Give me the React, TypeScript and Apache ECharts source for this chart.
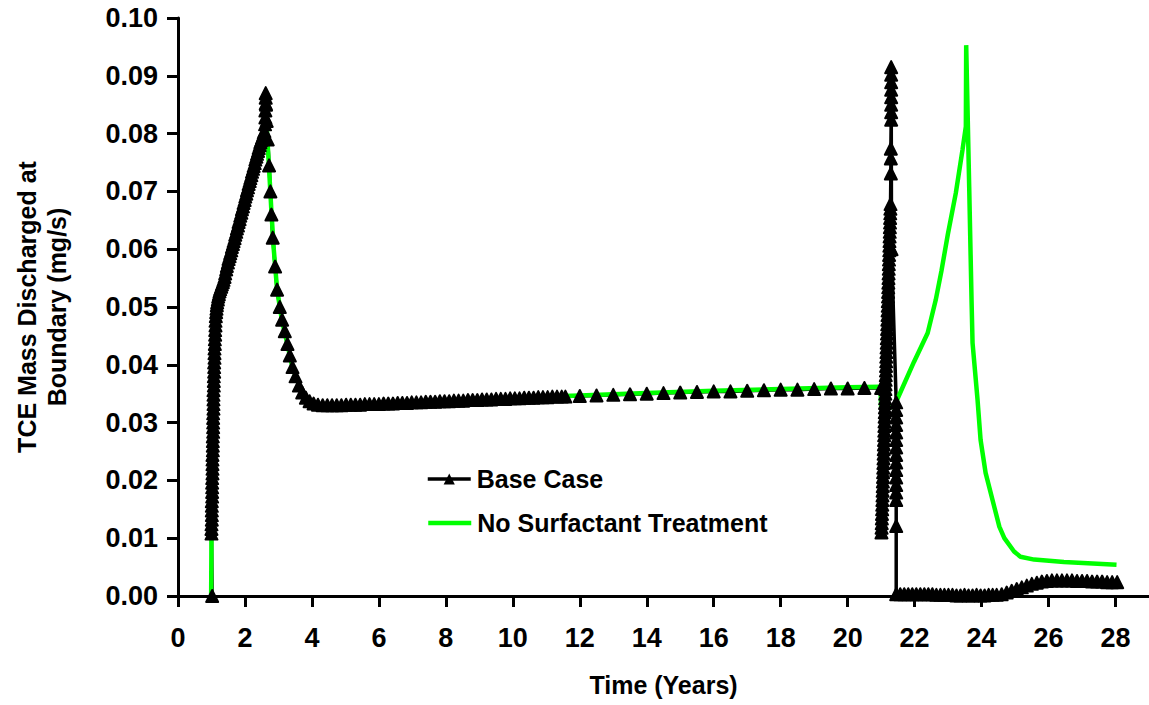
import React, { useEffect, useRef } from "react";
import * as echarts from "echarts";

// ---------- data (years, mg/s) ----------
const xTicks = [0, 2, 4, 6, 8, 10, 12, 14, 16, 18, 20, 22, 24, 26, 28];

const baseStart: number[][] = [[1.02, 0.0]];
const baseRise: number[][] = [
  [1.0, 0.0108], [1.0, 0.0116], [1.0, 0.0124], [1.01, 0.0132], [1.01, 0.014], [1.01, 0.0148],
  [1.01, 0.0156], [1.01, 0.0164], [1.02, 0.0172], [1.02, 0.018], [1.02, 0.0188], [1.02, 0.0196],
  [1.02, 0.0204], [1.03, 0.0212], [1.03, 0.022], [1.03, 0.0228], [1.03, 0.0236], [1.03, 0.0244],
  [1.04, 0.0252], [1.04, 0.026], [1.04, 0.0268], [1.04, 0.0276], [1.05, 0.0284], [1.05, 0.0292],
  [1.05, 0.03], [1.05, 0.0308], [1.05, 0.0316], [1.06, 0.0324], [1.06, 0.0332], [1.06, 0.034],
  [1.06, 0.0348], [1.06, 0.0356], [1.07, 0.0364], [1.07, 0.0372], [1.07, 0.038], [1.08, 0.0388],
  [1.08, 0.0396], [1.08, 0.0404], [1.09, 0.0412], [1.09, 0.042], [1.09, 0.0428], [1.1, 0.0436],
  [1.1, 0.0444], [1.11, 0.0452], [1.11, 0.046], [1.12, 0.0468], [1.12, 0.0476], [1.13, 0.0484],
  [1.14, 0.0491], [1.15, 0.0497], [1.16, 0.0503], [1.17, 0.0508], [1.19, 0.0513], [1.2, 0.0518],
  [1.22, 0.0522], [1.24, 0.0527], [1.26, 0.0531], [1.29, 0.0535], [1.31, 0.0539], [1.34, 0.0543],
  [1.36, 0.0547], [1.39, 0.0552], [1.41, 0.0558], [1.44, 0.0565], [1.46, 0.0571], [1.49, 0.0577],
  [1.51, 0.0583], [1.54, 0.0588], [1.56, 0.0593], [1.59, 0.0598], [1.61, 0.0604], [1.64, 0.0609],
  [1.66, 0.0614], [1.69, 0.0619], [1.71, 0.0625], [1.74, 0.063], [1.76, 0.0636], [1.79, 0.0641],
  [1.81, 0.0647], [1.84, 0.0652], [1.86, 0.0658], [1.89, 0.0663], [1.91, 0.0669], [1.94, 0.0674],
  [1.96, 0.068], [1.99, 0.0685], [2.01, 0.0691], [2.04, 0.0696], [2.06, 0.0702], [2.09, 0.0707],
  [2.11, 0.0713], [2.14, 0.0718], [2.16, 0.0723], [2.19, 0.0728], [2.21, 0.0734], [2.24, 0.0739],
  [2.26, 0.0744], [2.29, 0.0749], [2.31, 0.0755], [2.34, 0.076], [2.36, 0.0765], [2.39, 0.077],
  [2.41, 0.0775], [2.44, 0.078], [2.46, 0.0785], [2.49, 0.0789], [2.51, 0.0793], [2.54, 0.0797],
  [2.56, 0.0801], [2.58, 0.0804],
];
const basePeak: number[][] = [
  [2.6, 0.0816], [2.61, 0.0828], [2.61, 0.084], [2.62, 0.0852], [2.62, 0.0862], [2.62, 0.087],
];
const baseFall: number[][] = [
  [2.63, 0.085], [2.65, 0.0822], [2.68, 0.079], [2.72, 0.0745], [2.76, 0.07], [2.79, 0.066],
  [2.83, 0.062], [2.9, 0.057], [2.96, 0.053], [3.04, 0.05], [3.11, 0.0478], [3.19, 0.0458],
  [3.27, 0.0436], [3.34, 0.0416], [3.42, 0.0396], [3.51, 0.038], [3.61, 0.0364], [3.71, 0.0352],
  [3.82, 0.0343], [3.93, 0.0337], [4.05, 0.0333],
];
const basePlateau: number[][] = [
  [4.18, 0.0331], [4.32, 0.033], [4.46, 0.033], [4.6, 0.033], [4.74, 0.033], [4.88, 0.033],
  [5.02, 0.0331], [5.16, 0.0331], [5.3, 0.0331], [5.44, 0.0331], [5.58, 0.0332], [5.72, 0.0332],
  [5.86, 0.0332], [6.0, 0.0332], [6.14, 0.0333], [6.28, 0.0333], [6.42, 0.0333], [6.56, 0.0334],
  [6.7, 0.0334], [6.84, 0.0334], [6.98, 0.0335], [7.12, 0.0335], [7.26, 0.0335], [7.4, 0.0336],
  [7.54, 0.0336], [7.68, 0.0336], [7.82, 0.0337], [7.96, 0.0337], [8.1, 0.0337], [8.24, 0.0338],
  [8.38, 0.0338], [8.52, 0.0338], [8.66, 0.0339], [8.8, 0.0339], [8.94, 0.0339], [9.08, 0.034],
  [9.22, 0.034], [9.36, 0.034], [9.5, 0.0341], [9.64, 0.0341], [9.78, 0.0341], [9.92, 0.0342],
  [10.06, 0.0342], [10.2, 0.0342], [10.34, 0.0343], [10.48, 0.0343], [10.62, 0.0343], [10.76, 0.0344],
  [10.9, 0.0344], [11.04, 0.0344], [11.18, 0.0345], [11.32, 0.0345], [11.46, 0.0345], [11.57, 0.0345],
];
const baseFlat: number[][] = [
  [12.0, 0.0346], [12.5, 0.0347], [13.0, 0.0348], [13.5, 0.0349], [14.0, 0.035], [14.5, 0.0351],
  [15.0, 0.0352], [15.5, 0.0353], [16.0, 0.0354], [16.5, 0.0354], [17.0, 0.0355], [17.5, 0.0356],
  [18.0, 0.0357], [18.5, 0.0357], [19.0, 0.0358], [19.5, 0.0359], [20.0, 0.0359], [20.5, 0.036],
  [21.0, 0.036],
];
const baseSpikeUp: number[][] = [
  [21.01, 0.011], [21.014, 0.0118], [21.018, 0.0126], [21.021, 0.0134], [21.025, 0.0142],
  [21.029, 0.015], [21.033, 0.0158], [21.037, 0.0166], [21.041, 0.0174], [21.044, 0.0182],
  [21.048, 0.019], [21.052, 0.0198], [21.056, 0.0206], [21.059, 0.0214], [21.063, 0.0222],
  [21.067, 0.023], [21.071, 0.0238], [21.075, 0.0246], [21.078, 0.0254], [21.082, 0.0262],
  [21.086, 0.027], [21.09, 0.0278], [21.094, 0.0286], [21.097, 0.0294], [21.101, 0.0302],
  [21.105, 0.031], [21.109, 0.0318], [21.113, 0.0326], [21.116, 0.0334], [21.12, 0.0342],
  [21.124, 0.035], [21.128, 0.0358], [21.132, 0.0366], [21.135, 0.0374], [21.139, 0.0382],
  [21.143, 0.039], [21.147, 0.0398], [21.151, 0.0406], [21.154, 0.0414], [21.158, 0.0422],
  [21.162, 0.043], [21.166, 0.0438], [21.17, 0.0446], [21.173, 0.0454], [21.177, 0.0462],
  [21.181, 0.047], [21.185, 0.0478], [21.189, 0.0486], [21.192, 0.0494], [21.196, 0.0502],
  [21.2, 0.051], [21.204, 0.0518], [21.208, 0.0526], [21.211, 0.0534], [21.215, 0.0542],
  [21.219, 0.055], [21.223, 0.0558], [21.227, 0.0566], [21.23, 0.0574], [21.234, 0.0582],
  [21.238, 0.059], [21.242, 0.0598], [21.246, 0.0606], [21.249, 0.0614], [21.253, 0.0622],
  [21.257, 0.063], [21.261, 0.0638], [21.265, 0.0646], [21.268, 0.0654], [21.272, 0.0662],
  [21.276, 0.067], [21.28, 0.0678],
];
const baseSpikeTop: number[][] = [
  [21.29, 0.0731], [21.29, 0.0757], [21.29, 0.0774], [21.3, 0.0824], [21.3, 0.0837], [21.3, 0.085],
  [21.3, 0.0863], [21.3, 0.0876], [21.3, 0.0889], [21.3, 0.0902], [21.3, 0.0915], [21.31, 0.06],
];
const baseSpikeTail: number[][] = [
  [21.45, 0.0335], [21.45, 0.0322], [21.45, 0.0309], [21.45, 0.0296], [21.45, 0.0283], [21.45, 0.027],
  [21.45, 0.0257], [21.45, 0.0244], [21.45, 0.0231], [21.45, 0.0218], [21.45, 0.0205], [21.45, 0.0192],
  [21.45, 0.0179], [21.45, 0.0166], [21.45, 0.0121], [21.45, 0.0003],
];
const baseAfter: number[][] = [
  [21.57, 0.0003], [21.69, 0.0003], [21.81, 0.0003], [21.93, 0.0003], [22.05, 0.0003], [22.17, 0.0003],
  [22.29, 0.0003], [22.41, 0.0003], [22.53, 0.0003], [22.65, 0.0002], [22.77, 0.0002], [22.89, 0.0002],
  [23.01, 0.0002], [23.13, 0.0002], [23.25, 0.0001], [23.37, 0.0001], [23.49, 0.0002], [23.61, 0.0001],
  [23.73, 0.0001], [23.85, 0.0002], [23.97, 0.0001], [24.09, 0.0001], [24.21, 0.0002], [24.33, 0.0002],
  [24.45, 0.0002], [24.6, 0.0003], [24.75, 0.0006], [24.9, 0.0009], [25.05, 0.0012], [25.2, 0.0015],
  [25.35, 0.0018], [25.5, 0.0021], [25.65, 0.0023], [25.8, 0.0025], [25.95, 0.0026], [26.1, 0.0027],
  [26.25, 0.0027], [26.4, 0.0027], [26.55, 0.0027], [26.7, 0.0027], [26.85, 0.0026], [27.0, 0.0026],
  [27.15, 0.0026], [27.3, 0.0025], [27.45, 0.0025], [27.6, 0.0025], [27.75, 0.0024], [27.9, 0.0024],
  [28.05, 0.0024],
];

const noSurfactant: number[][] = [
  [0.99, 0.0], [1.0, 0.0105], [1.03, 0.024], [1.06, 0.035], [1.1, 0.045], [1.16, 0.0505],
  [1.3, 0.054], [1.6, 0.06], [2.0, 0.0685], [2.4, 0.0772], [2.58, 0.081], [2.62, 0.085],
  [2.66, 0.08], [2.72, 0.074], [2.79, 0.0665], [2.86, 0.06], [2.96, 0.053], [3.1, 0.0478],
  [3.25, 0.044], [3.4, 0.04], [3.55, 0.0374], [3.7, 0.0354], [3.9, 0.0338], [4.2, 0.0331],
  [5.0, 0.0331], [6.0, 0.0333], [8.0, 0.0337], [10.0, 0.0342], [11.5, 0.0346], [12.0, 0.0347],
  [14.0, 0.0351], [16.0, 0.0355], [18.0, 0.0358], [20.0, 0.0361], [20.98, 0.0362], [21.0, 0.0326],
  [21.38, 0.0327], [21.98, 0.0405], [22.39, 0.0455], [22.63, 0.0512], [22.8, 0.0562], [22.99, 0.0625],
  [23.23, 0.0697], [23.43, 0.0772], [23.53, 0.0812], [23.54, 0.0953], [23.63, 0.0708], [23.7, 0.0512],
  [23.73, 0.0438], [23.88, 0.0339], [23.97, 0.027], [24.12, 0.0213], [24.38, 0.0154], [24.53, 0.012],
  [24.68, 0.01], [24.97, 0.0077], [25.16, 0.0068], [25.57, 0.0063], [26.46, 0.0059], [28.03, 0.0054],
];

const baseCase: number[][] = [
  ...baseStart, ...baseRise, ...basePeak, ...baseFall, ...basePlateau, ...baseFlat,
  ...baseSpikeUp, ...baseSpikeTop, ...baseSpikeTail, ...baseAfter,
];

const FONT = "'Liberation Sans', Arial, sans-serif";

export default function App() {
  const ref = useRef<HTMLDivElement>(null);
  useEffect(() => {
    if (!ref.current) return;
    const chart = echarts.init(ref.current, null, { renderer: "svg" });
    const txt = { color: "#000", fontWeight: "bold" as const, fontFamily: FONT };
    chart.setOption({
      animation: false,
      backgroundColor: "#fff",
      grid: { left: 178, top: 18, width: 973.5, height: 578, containLabel: false },
      legend: [
        {
          data: ["Base Case"], left: 426, top: 466, orient: "vertical", padding: 0,
          itemWidth: 43, itemHeight: 14, itemGap: 0,
          lineStyle: { width: 3.5, color: "#000" },
          itemStyle: { color: "#000", opacity: 1 },
          textStyle: { ...txt, fontSize: 25, lineHeight: 26, padding: [0, 0, 0, 1] },
        },
        {
          data: ["No Surfactant Treatment"], left: 426, top: 510, orient: "vertical", padding: 0,
          itemWidth: 43, itemHeight: 14, itemGap: 0,
          lineStyle: { width: 4.5, color: "#00ff00" },
          itemStyle: { opacity: 0 },
          textStyle: { ...txt, fontSize: 25, lineHeight: 26, padding: [0, 0, 0, 1] },
        },
      ],
      xAxis: {
        type: "value", min: 0, max: 29, interval: 2,
        axisLine: { lineStyle: { color: "#000", width: 3 } },
        axisTick: { show: true, inside: false, length: 11, lineStyle: { color: "#000", width: 3 }, customValues: xTicks },
        axisLabel: { ...txt, fontSize: 27, margin: 28, customValues: xTicks },
        splitLine: { show: false },
        name: "Time (Years)", nameLocation: "middle", nameGap: 76,
        nameTextStyle: { ...txt, fontSize: 25 },
      },
      yAxis: {
        type: "value", min: 0, max: 0.1, interval: 0.01,
        axisLine: { show: true, lineStyle: { color: "#000", width: 3 } },
        axisTick: { show: true, inside: false, length: 11, lineStyle: { color: "#000", width: 3 } },
        axisLabel: { ...txt, fontSize: 27, margin: 20, formatter: (v: number) => v.toFixed(2) },
        splitLine: { show: false },
        name: "TCE Mass Discharged at\nBoundary (mg/s)", nameLocation: "middle", nameRotate: 90, nameGap: 106,
        nameTextStyle: { ...txt, fontSize: 25, lineHeight: 30 },
      },
      series: [
        {
          name: "Base Case", type: "line", data: baseCase, symbol: "triangle", symbolSize: 14,
          showSymbol: false, lineStyle: { color: "#000", width: 3.5 }, itemStyle: { color: "#000" },
          z: 2, silent: true,
        },
        {
          name: "No Surfactant Treatment", type: "line", data: noSurfactant, symbol: "none",
          showSymbol: false, lineStyle: { color: "#00ff00", width: 4.5 }, itemStyle: { color: "#00ff00" },
          z: 3, silent: true,
        },
        {
          name: "Base Case markers", type: "scatter", data: baseCase, symbol: "triangle", symbolSize: 12,
          itemStyle: { color: "#000", opacity: 1, borderColor: "#000", borderWidth: 2, borderJoin: "round" },
          z: 4, silent: true,
        },
      ],
    });
    return () => chart.dispose();
  }, []);
  return <div ref={ref} style={{ position: "absolute", left: 0, top: 0, width: 1149, height: 705 }} />;
}
